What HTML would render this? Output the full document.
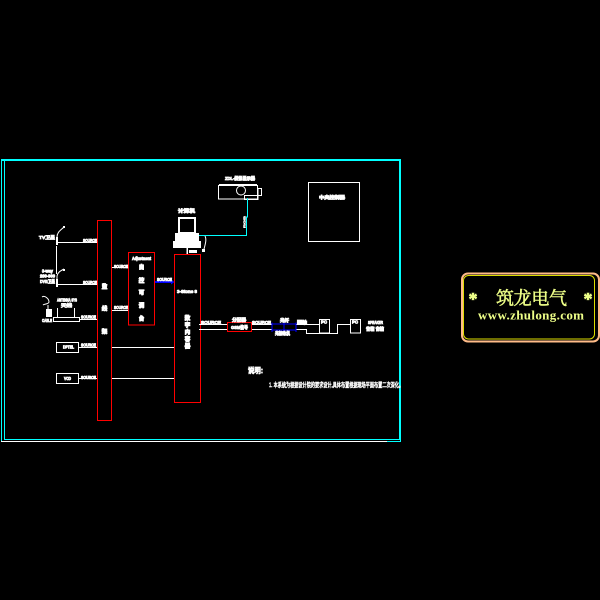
<!DOCTYPE html>
<html><head><meta charset="utf-8"><style>
html,body{margin:0;padding:0;background:#000;width:600px;height:600px;overflow:hidden}
svg{display:block}
.t{font-family:"Liberation Sans","Noto Sans CJK SC",sans-serif;fill:#fff;stroke:#fff;stroke-width:.8;font-weight:700;font-size:4.500px}
.c{font-family:"Liberation Sans","Noto Sans CJK SC",sans-serif;fill:#fff;stroke:#fff;stroke-width:.9;font-weight:700;font-size:5.500px;text-anchor:middle}
</style></head><body>
<svg width="600" height="600" viewBox="0 0 600 600" xmlns="http://www.w3.org/2000/svg">
<rect width="600" height="600" fill="#000"/>
<!-- frames -->
<g fill="none" shape-rendering="crispEdges">
<path d="M1 441.500H387" stroke="#fff"/>
<path d="M387 441.500H401" stroke="#0ff"/>
<path d="M1.500 160V441" stroke="#0ff"/>
<path d="M4.500 160V439.500H399.500V160" stroke="#0ff"/>
<path d="M400.500 160V442" stroke="#0ff"/>
<path d="M1 160H401" stroke="#0ff" stroke-width="2"/>
</g>
<!-- red -->
<g fill="none" stroke="#f00" stroke-width="1" shape-rendering="crispEdges">
<rect x="97.500" y="220.500" width="14" height="200"/>
<rect x="128.500" y="252.500" width="26" height="72.500"/>
<rect x="174.500" y="254.500" width="26" height="148"/>
<rect x="227.500" y="322.500" width="24" height="9"/>
</g>
<!-- white lines -->
<g fill="none" stroke="#fff" stroke-width="1" shape-rendering="crispEdges">
<path d="M58 242.500H97M56.500 246V274M58 284.500H97"/>
<path d="M79 319.500H97M112 310.500H128M112 267.500H128"/>
<path d="M79 347.500H97M112 347.500H174M79 378.500H97M112 378.500H174"/>
<rect x="56.500" y="342.500" width="22" height="10"/>
<rect x="56.500" y="373.500" width="22" height="10"/>
<rect x="308.500" y="182.500" width="51" height="59"/>
<path d="M199 324.500H227M199 329.500H227M252 324.500H272M252 329.500H272"/>
<path d="M296 324.500H319M296 329.500H306.500V333.500H337.500V324.500H350"/>
<rect x="319.500" y="319.500" width="10" height="13.500"/>
<rect x="350.500" y="319.500" width="10" height="13.500"/>
<path d="M53.500 317.500H79.500V321.500H53.500ZM57.500 308V318M74.500 308V318"/>
<rect x="218.500" y="185.500" width="39" height="13.500"/>
<rect x="244.500" y="195.500" width="13.500" height="4"/>
<rect x="258" y="188.500" width="3.500" height="7"/>
</g>
<g fill="none" stroke="#fff" stroke-width="1">
<path d="M57 245V237C57 232 61 230 64 227"/>
<path d="M57 287V277C57 273 60 271 64 269"/>
<circle cx="241" cy="190.500" r="4.500"/>
<path d="M205 236C207 240 205 245 203.500 251"/>
<path d="M42 297C45 295 49 299 49 302C49 304 44 304 43 305M48 305V309"/>
</g>
<g fill="#fff" shape-rendering="crispEdges">
<rect x="56" y="237" width="2" height="8"/><rect x="56" y="279" width="2" height="8"/>
<rect x="63" y="226" width="2" height="2"/><rect x="63" y="269" width="2" height="2"/>
<rect x="219" y="184" width="38" height="2"/>
<rect x="46" y="309" width="6" height="8"/>
</g>
<!-- computer -->
<g shape-rendering="crispEdges">
<rect x="179" y="218" width="16" height="15" fill="#000" stroke="#fff" stroke-width="2"/>
<rect x="175" y="233" width="24" height="8" fill="#fff"/>
<rect x="173" y="241" width="28" height="7" fill="#fff"/>
<rect x="186.500" y="248" width="1.500" height="6" fill="#fff"/>
<rect x="189" y="250" width="8" height="3" fill="#fff"/>
<rect x="202" y="249" width="3" height="3" fill="#fff"/>
</g>
<!-- cyan link -->
<path d="M199 235.500H246.500V217H247.500V198" fill="none" stroke="#0ff" stroke-width="1" shape-rendering="crispEdges"/>
<!-- blue -->
<g fill="none" stroke="#00f" stroke-width="1.300" shape-rendering="crispEdges">
<path d="M155 282H172" stroke-width="2"/>
<rect x="272" y="324" width="12" height="6"/>
<rect x="284" y="324" width="12" height="6"/>
<path d="M272 322.500V332M284 322.500V332M296 322.500V332"/>
</g>
<path d="M171 279.500L174.500 282L171 284.500Z" fill="#00f"/>
<!-- labels -->
<g class="t">
<text x="39" y="239" textLength="16" lengthAdjust="spacingAndGlyphs">TV卫星</text>
<text x="42" y="272.500" textLength="11" lengthAdjust="spacingAndGlyphs">3-way</text>
<text x="40" y="277.500" textLength="15" lengthAdjust="spacingAndGlyphs">200-300</text>
<text x="40" y="283" textLength="15" lengthAdjust="spacingAndGlyphs">DVB卫星</text>
<text x="83" y="242" textLength="14" lengthAdjust="spacingAndGlyphs">SOURCE</text>
<text x="83" y="284" textLength="14" lengthAdjust="spacingAndGlyphs">SOURCE</text>
<text x="81" y="318.500" textLength="15" lengthAdjust="spacingAndGlyphs">SOURCE</text>
<text x="81" y="346.500" textLength="15" lengthAdjust="spacingAndGlyphs">SOURCE</text>
<text x="81" y="379" textLength="15" lengthAdjust="spacingAndGlyphs">SOURCE</text>
<text x="114" y="268" textLength="14" lengthAdjust="spacingAndGlyphs">SOURCE</text>
<text x="114" y="309" textLength="14" lengthAdjust="spacingAndGlyphs">SOURCE</text>
<text x="57" y="301.500" textLength="20" lengthAdjust="spacingAndGlyphs">ANTENNA SYS</text>
<text x="61" y="307" textLength="11" lengthAdjust="spacingAndGlyphs">天线</text>
<text x="42" y="322" textLength="10" lengthAdjust="spacingAndGlyphs">CABLE</text>
<text x="63" y="348.500" textLength="11" lengthAdjust="spacingAndGlyphs">DPTEL</text>
<text x="64" y="380" textLength="7" lengthAdjust="spacingAndGlyphs">VCD</text>
<text x="132" y="260" textLength="19" lengthAdjust="spacingAndGlyphs">Adjustment</text>
<text x="157" y="281" textLength="15" lengthAdjust="spacingAndGlyphs">SOURCE</text>
<text x="177" y="293" textLength="20" lengthAdjust="spacingAndGlyphs">3-Stone 8</text>
<text x="178" y="212.500" textLength="17" lengthAdjust="spacingAndGlyphs">计算机</text>
<text x="225" y="180" textLength="30" lengthAdjust="spacingAndGlyphs">ZDL-投影显示器</text>
<text x="319" y="199" textLength="26" lengthAdjust="spacingAndGlyphs">中央控制器</text>
<text x="201" y="324" textLength="20" lengthAdjust="spacingAndGlyphs">SOURCE</text>
<text x="232" y="321.500" textLength="14" lengthAdjust="spacingAndGlyphs">分配器</text>
<text x="231" y="329" textLength="17" lengthAdjust="spacingAndGlyphs">GSM信号</text>
<text x="252" y="324" textLength="19" lengthAdjust="spacingAndGlyphs">SOURCE</text>
<text x="280" y="322" textLength="9" lengthAdjust="spacingAndGlyphs">光纤</text>
<text x="275" y="335" textLength="15" lengthAdjust="spacingAndGlyphs">光接收机</text>
<text x="297" y="324" textLength="10" lengthAdjust="spacingAndGlyphs">同轴</text>
<text x="368" y="324" textLength="15" lengthAdjust="spacingAndGlyphs">SPEAKER</text>
<text x="366" y="330.500" textLength="18" lengthAdjust="spacingAndGlyphs">音箱 音箱</text>
<text x="321" y="323.500" textLength="6" lengthAdjust="spacingAndGlyphs">PC</text>
<text x="352" y="323.500" textLength="6" lengthAdjust="spacingAndGlyphs">PC</text>
<text transform="translate(245.500 228) rotate(-90)" x="0" y="0" textLength="12" lengthAdjust="spacingAndGlyphs" style="font-size:3px;stroke-width:.4">RGB</text>
</g>
<g class="c">
<text x="104.500" y="288.500">监</text><text x="104.500" y="310.500">线</text><text x="104.500" y="333.500">架</text>
<text x="141.500" y="269">自</text><text x="141.500" y="282.500">控</text><text x="141.500" y="294.500">可</text><text x="141.500" y="307.500">调</text><text x="141.500" y="320.500">台</text>
<text x="187.500" y="320">数</text><text x="187.500" y="327">字</text><text x="187.500" y="334">内</text><text x="187.500" y="341">容</text><text x="187.500" y="348">器</text>
</g>
<text x="248" y="373" style="font-family:'Liberation Sans','Noto Sans CJK SC',sans-serif;font-size:7.500px;font-weight:700;fill:#fff;stroke:#fff;stroke-width:.7" textLength="15" lengthAdjust="spacingAndGlyphs">说明:</text>
<text x="269" y="387" style="font-family:'Liberation Sans','Noto Sans CJK SC',sans-serif;font-size:6.500px;fill:#fff;stroke:#fff;stroke-width:.5" textLength="134" lengthAdjust="spacingAndGlyphs">1. 本系统为根据设计院的要求设计,具体布置根据现场平面布置二次深化。</text>
<!-- logo -->
<rect x="462" y="273.500" width="137" height="68" rx="6" fill="#000" stroke="#ffbb88" stroke-width="2"/>
<rect x="463.500" y="275.500" width="131" height="63.500" rx="5" fill="none" stroke="#dddd00" stroke-width="1"/>
<g fill="#eeff88" stroke="#eeff88" style="font-family:'Liberation Serif','Noto Serif CJK SC',serif">
<text x="531.500" y="304.500" font-size="18" stroke-width=".5" text-anchor="middle" textLength="71" lengthAdjust="spacing">筑龙电气</text>
<text x="473" y="305" font-size="18" stroke-width=".6" font-weight="700" text-anchor="middle">*</text>
<text x="588" y="305" font-size="18" stroke-width=".6" font-weight="700" text-anchor="middle">*</text>
<text x="531" y="319.500" font-size="13" stroke-width="0" font-weight="700" text-anchor="middle" textLength="106" lengthAdjust="spacing">www.zhulong.com</text>
</g>
</svg>
</body></html>
